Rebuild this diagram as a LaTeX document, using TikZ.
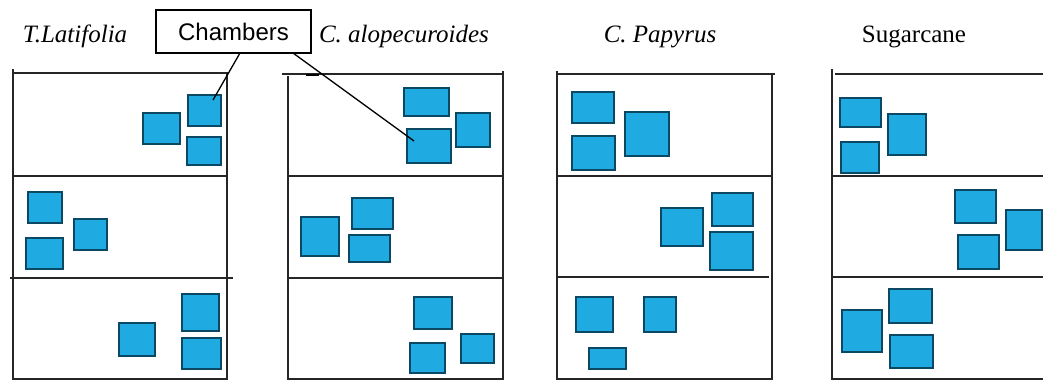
\documentclass[tikz,border=0pt]{standalone}
\usepackage{fontspec}
\setmainfont{Liberation Serif}
\newfontfamily\chsans{Liberation Sans}
\definecolor{boxfill}{HTML}{1FAAE2}
\definecolor{boxedge}{HTML}{0A4864}
\newcommand\chbox[5]{%
  \pgfmathsetmacro\bw{#4-#2}\pgfmathsetmacro\bh{#5-#3}%
  \node[cbox, minimum width=\bw pt, minimum height=\bh pt] (#1) at ({(#2+#4)/2},{(#3+#5)/2}) {};}
\tikzset{
  cbox/.style={draw=boxedge, fill=boxfill, line width=2.8pt, inner sep=0pt, rectangle},
  pline/.style={draw=black!85, line width=2pt},
  title/.style={inner sep=0pt, anchor=base, font=\fontsize{25}{30}\selectfont},
  lead/.style={draw=black, line width=1.3pt},
}
\begin{document}
\begin{tikzpicture}[x=1pt,y=-1pt]
\useasboundingbox (0,0) rectangle (1043,380);
% titles
\node[title] (t1) at (75,42) {\itshape T.Latifolia};
\node[title] (t2) at (404,42) {\itshape C. alopecuroides};
\node[title] (t3) at (660,42) {\itshape C. Papyrus};
\node[title] (t4) at (914,42) {Sugarcane};
\node[draw, line width=1.1pt, inner sep=0pt, minimum width=155pt, minimum height=43pt,
      font=\chsans\fontsize{24}{28}\selectfont] (ch) at (233.5,31.5) {Chambers};
% panel 1
\draw[pline] (13,69) -- (13,380);
\draw[pline] (13,73) -- (228,73);
\draw[pline] (227,73) -- (227,380);
\draw[pline] (13,176) -- (227,176);
\draw[pline] (10,278) -- (233,278);
\draw[pline] (13,379) -- (227,379);
% panel 2
\draw[pline] (288,76) -- (288,380);
\draw[pline] (282,74) -- (503,74);
\draw[draw=black, line width=2.8pt] (306,75) -- (319,75);
\draw[pline] (503,71) -- (503,380);
\draw[pline] (288,176) -- (503,176);
\draw[pline] (287,278) -- (503,278);
\draw[pline] (288,379) -- (503,379);
% panel 3
\draw[pline] (557,71) -- (557,380);
\draw[pline] (557,74) -- (775,74);
\draw[pline] (772,74) -- (772,380);
\draw[pline] (557,176) -- (772,176);
\draw[pline] (557,277) -- (769,277);
\draw[pline] (557,379) -- (772,379);
% panel 4
\draw[pline] (832,69) -- (832,380);
\draw[pline] (835,74) -- (1043,74);
\draw[pline] (832,176) -- (1043,176);
\draw[pline] (832,277) -- (1043,277);
\draw[pline] (832,379) -- (1043,379);
% boxes panel 1
\chbox{b11}{143}{113}{180}{144}
\chbox{b12}{188}{95}{221}{126}
\chbox{b13}{187}{137}{221}{165}
\chbox{b14}{28}{192}{62}{223}
\chbox{b15}{26}{238}{63}{269}
\chbox{b16}{74}{219}{107}{250}
\chbox{b17}{119}{323}{155}{356}
\chbox{b18}{182}{294}{219}{331}
\chbox{b19}{182}{338}{221}{369}
% boxes panel 2
\chbox{b21}{404}{88}{449}{116}
\chbox{b22}{407}{129}{451}{163}
\chbox{b23}{456}{113}{490}{147}
\chbox{b24}{301}{217}{339}{256}
\chbox{b25}{352}{198}{393}{229}
\chbox{b26}{349}{235}{390}{262}
\chbox{b27}{414}{297}{452}{329}
\chbox{b28}{410}{343}{445}{373}
\chbox{b29}{461}{334}{494}{363}
% boxes panel 3
\chbox{b31}{572}{92}{614}{123}
\chbox{b32}{572}{136}{615}{170}
\chbox{b33}{625}{112}{669}{156}
\chbox{b34}{661}{208}{703}{246}
\chbox{b35}{712}{193}{753}{226}
\chbox{b36}{710}{232}{753}{270}
\chbox{b37}{576}{297}{613}{332}
\chbox{b38}{644}{297}{676}{332}
\chbox{b39}{589}{348}{626}{369}
% boxes panel 4
\chbox{b41}{840}{98}{881}{127}
\chbox{b42}{841}{142}{879}{173}
\chbox{b43}{888}{114}{926}{155}
\chbox{b44}{955}{190}{996}{223}
\chbox{b45}{958}{235}{999}{269}
\chbox{b46}{1006}{210}{1042}{250}
\chbox{b47}{842}{310}{882}{352}
\chbox{b48}{889}{289}{932}{323}
\chbox{b49}{890}{335}{933}{368}
% leaders
\coordinate (la) at (240,53);
\coordinate (lae) at (213,100);
\coordinate (lb) at (293,53);
\coordinate (lbe) at (414,141);
\draw[lead] (la) -- (lae);
\draw[lead] (lb) -- (lbe);
\end{tikzpicture}
\end{document}
